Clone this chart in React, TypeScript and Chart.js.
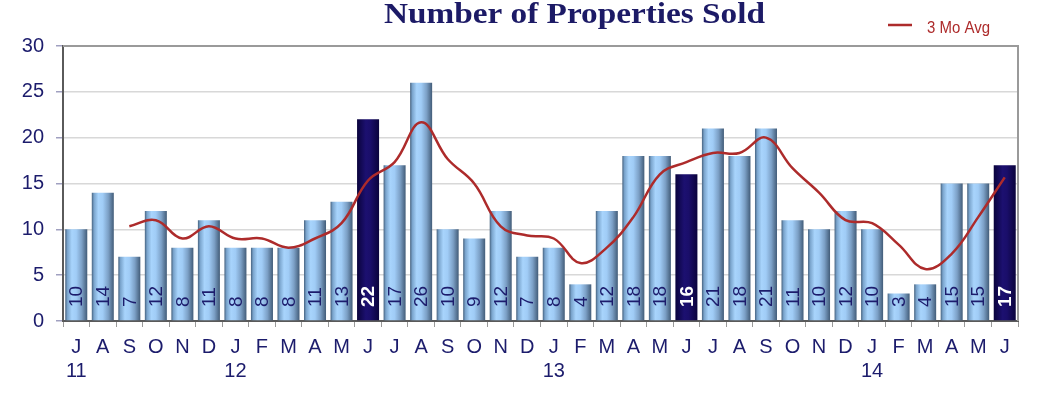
import React, { useEffect, useRef } from "react";
import { Chart, registerables } from "chart.js";

Chart.register(...registerables);

const months = ["J","A","S","O","N","D","J","F","M","A","M","J","J","A","S","O","N","D","J","F","M","A","M","J","J","A","S","O","N","D","J","F","M","A","M","J"];
const years = ["11","","","","","","12","","","","","","","","","","","","13","","","","","","","","","","","","14","","","","",""];
const sold = [10,14,7,12,8,11,8,8,8,11,13,22,17,26,10,9,12,7,8,4,12,18,18,16,21,18,21,11,10,12,10,3,4,15,15,17];
const avg3 = [null,null,10.33,11,9,10.33,9,9,8,9,10.67,15.33,17.33,21.67,17.67,15,10.33,9.33,9,6.33,8,11.33,16,17.33,18.33,18.33,20,16.67,14,11,10.67,8.33,5.67,7.33,11.33,15.67];
const highlight = [11, 23, 35];
const yTicks = [0, 5, 10, 15, 20, 25, 30];

const NAVY = "#1c1c6c";
const RED = "#ad2b2b";
const BAR_PCT = 0.83;

function fitText(c: CanvasRenderingContext2D, text: string, left: number, baseline: number, width: number) {
  const w = c.measureText(text).width;
  c.save();
  c.translate(left, baseline);
  c.scale(width / w, 1);
  c.textAlign = "left";
  c.textBaseline = "alphabetic";
  c.fillText(text, 0, 0);
  c.restore();
}

export default function App() {
  const ref = useRef<HTMLCanvasElement | null>(null);
  useEffect(() => {
    if (!ref.current) return;
    const labels = months.map((m, i) => (years[i] ? [m, years[i]] : [m, ""]));

    const bgColor = (ctx: any) => {
      const chart = ctx.chart;
      const i = ctx.dataIndex;
      const dark = highlight.includes(i);
      const xs = chart.scales && chart.scales.x;
      if (!chart.chartArea || !xs || i === undefined) return dark ? "#150a5e" : "#8fb8e0";
      const cx = xs.getPixelForValue(i);
      const w = ((chart.chartArea.right - chart.chartArea.left) / sold.length) * BAR_PCT;
      const g = chart.ctx.createLinearGradient(cx - w / 2, 0, cx + w / 2, 0);
      if (dark) {
        g.addColorStop(0, "#0a033c");
        g.addColorStop(0.4, "#1c1070");
        g.addColorStop(0.6, "#1a0e6a");
        g.addColorStop(1, "#0a033c");
      } else {
        g.addColorStop(0, "#46627f");
        g.addColorStop(0.1, "#7aa4cc");
        g.addColorStop(0.3, "#a8d4fc");
        g.addColorStop(0.5, "#a0ccf6");
        g.addColorStop(0.75, "#7ca0c6");
        g.addColorStop(1, "#425c78");
      }
      return g;
    };

    const deco = {
      id: "deco",
      afterDatasetsDraw(chart: any) {
        const c = chart.ctx;
        const meta = chart.getDatasetMeta(1);
        const base = chart.scales.y.getPixelForValue(0) - 14;
        c.save();
        meta.data.forEach((bar: any, i: number) => {
          const dark = highlight.includes(i);
          c.save();
          c.translate(bar.x, base);
          c.rotate(-Math.PI / 2);
          c.font = (dark ? "bold " : "") + '19px "Liberation Sans", Arial, sans-serif';
          c.fillStyle = dark ? "#ffffff" : NAVY;
          c.textAlign = "left";
          c.textBaseline = "middle";
          c.fillText(String(sold[i]), 0, 1);
          c.restore();
        });
        c.restore();
      },
      afterDraw(chart: any) {
        const c = chart.ctx;
        const a = chart.chartArea;
        c.save();
        c.strokeStyle = "#9a9a9a";
        c.lineWidth = 2;
        c.beginPath();
        c.moveTo(a.left, a.top);
        c.lineTo(a.right, a.top);
        c.lineTo(a.right, a.bottom);
        c.stroke();
        // title
        c.font = 'bold 30px "Liberation Serif", "Times New Roman", serif';
        c.fillStyle = "#1c1a66";
        fitText(c, "Number of Properties Sold", 384, 22.5, 381);
        // legend
        c.strokeStyle = RED;
        c.lineWidth = 2.5;
        c.beginPath();
        c.moveTo(888, 25);
        c.lineTo(912, 25);
        c.stroke();
        c.font = '17px "Liberation Sans", Arial, sans-serif';
        c.fillStyle = RED;
        fitText(c, "3 Mo Avg", 927, 32.5, 63);
        c.restore();
      },
    };

    const chart = new Chart(ref.current, {
      type: "bar",
      data: {
        labels,
        datasets: [
          {
            type: "line",
            label: "3 Mo Avg",
            data: avg3,
            borderColor: RED,
            borderWidth: 2.5,
            tension: 0.4,
            pointRadius: 0,
            fill: false,
            order: 0,
          } as any,
          {
            type: "bar",
            label: "Sold",
            data: sold,
            backgroundColor: bgColor,
            borderWidth: 0,
            barPercentage: BAR_PCT,
            categoryPercentage: 1,
            order: 1,
          },
        ],
      },
      options: {
        animation: false,
        responsive: true,
        maintainAspectRatio: false,
        layout: { padding: { top: 46, right: 30, left: 0, bottom: 0 } },
        plugins: { legend: { display: false }, title: { display: false }, tooltip: { enabled: false } },
        scales: {
          x: {
            type: "category",
            afterFit: (s: any) => { s.height = 75; },
            ticks: {
              autoSkip: false,
              maxRotation: 0,
              minRotation: 0,
              padding: 8,
              color: NAVY,
              font: { family: '"Liberation Sans", Arial, sans-serif', size: 20, lineHeight: 1.2 },
            },
            grid: { drawOnChartArea: false, offset: true, tickLength: 6, color: "#999", tickColor: "#999" },
            border: { color: "#5a5a5a", width: 2 },
          },
          y: {
            min: 0,
            max: 30,
            afterFit: (s: any) => { s.width = 63; },
            afterBuildTicks: (s: any) => { s.ticks = yTicks.map((v) => ({ value: v })); },
            ticks: {
              stepSize: 5,
              padding: 12,
              color: NAVY,
              font: { family: '"Liberation Sans", Arial, sans-serif', size: 20 },
            },
            grid: { color: "#d8d8d8", lineWidth: 1.5, tickLength: 7, tickColor: "#a0a0c0" },
            border: { color: "#5a5a5a", width: 2 },
          },
        },
      },
      plugins: [deco],
    });
    return () => chart.destroy();
  }, []);

  return (
    <div style={{ position: "absolute", top: 0, left: 0, width: 1048, height: 396 }}>
      <canvas ref={ref} />
    </div>
  );
}
